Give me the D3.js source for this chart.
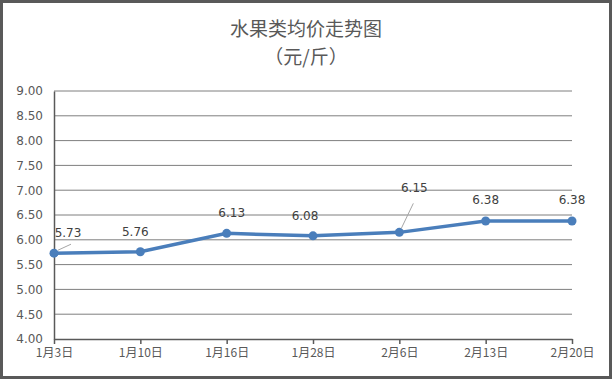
<!DOCTYPE html>
<html>
<head>
<meta charset="utf-8">
<script src="https://cdn.jsdelivr.net/npm/d3@7"></script>
<style>
  body { margin: 0; background: #fff; }
  svg { display: block; }
</style>
</head>
<body>
<svg width="612" height="380"></svg>
<script>
let dates = ["1月3日", "1月10日", "1月16日", "1月28日", "2月6日", "2月13日", "2月20日"];
let prices = [5.73, 5.76, 6.13, 6.08, 6.15, 6.38, 6.38];
let yTicks = [4, 4.5, 5, 5.5, 6, 6.5, 7, 7.5, 8, 8.5, 9];
// label offsets relative to point (dx, dy)
let labelOffsets = [[14, -16], [-5, -16], [5, -16], [-8, -16], [15, -40], [0, -17], [0, -17]];

let svg = d3.select("svg");
let font = "'Noto Sans CJK SC', 'Noto Sans', sans-serif";

// frame
svg.append("rect")
  .attr("x", 1.5).attr("y", 1.5)
  .attr("width", 609).attr("height", 376)
  .attr("fill", "#fff")
  .attr("stroke", "#595959")
  .attr("stroke-width", 3);

svg.append("text")
  .attr("x", 306).attr("y", 36)
  .attr("text-anchor", "middle")
  .attr("font-family", font)
  .attr("font-size", 19)
  .attr("fill", "#595959")
  .text("水果类均价走势图");
svg.append("text")
  .attr("x", 306).attr("y", 64)
  .attr("text-anchor", "middle")
  .attr("font-family", font)
  .attr("font-size", 19)
  .attr("fill", "#595959")
  .text("（元/斤）");

let x = d3.scalePoint().domain(dates).range([54, 572]);
let y = d3.scaleLinear().domain([4, 9]).range([339, 91]);

// grid
svg.append("g")
  .selectAll("line")
  .data(yTicks.slice(1))
  .join("line")
  .attr("x1", 54).attr("x2", 572)
  .attr("y1", (d) => y(d)).attr("y2", (d) => y(d))
  .attr("stroke", "#7f7f7f")
  .attr("stroke-width", 1);

// y axis
let yAxis = svg.append("g")
  .attr("transform", "translate(54,0)")
  .call(d3.axisLeft(y).tickValues(yTicks).tickFormat(d3.format(".2f")).tickSize(0).tickPadding(11));
yAxis.select(".domain").attr("stroke", "#595959").attr("stroke-width", 1.5);
yAxis.selectAll("text")
  .attr("font-family", "'DejaVu Sans', sans-serif")
  .attr("font-size", 12)
  .attr("fill", "#595959");

// x axis
let xAxis = svg.append("g")
  .attr("transform", "translate(0,339)")
  .call(d3.axisBottom(x).tickSize(5).tickSizeOuter(0).tickPadding(4));
xAxis.select(".domain").attr("stroke", "#595959").attr("stroke-width", 1.5);
xAxis.selectAll(".tick line").attr("stroke", "#595959").attr("stroke-width", 1.5);
xAxis.selectAll("text")
  .attr("font-family", font)
  .attr("font-size", 12)
  .attr("fill", "#595959");

let line = d3.line()
  .x((d, i) => x(dates[i]))
  .y((d) => y(d));

svg.append("path")
  .datum(prices)
  .attr("d", line)
  .attr("fill", "none")
  .attr("stroke", "#4a7ebb")
  .attr("stroke-width", 3.5);

svg.append("g")
  .selectAll("circle")
  .data(prices)
  .join("circle")
  .attr("cx", (d, i) => x(dates[i]))
  .attr("cy", (d) => y(d))
  .attr("r", 4.5)
  .attr("fill", "#4a7ebb");

// leader lines for labels that sit away from their point
svg.append("line")
  .attr("x1", x(dates[0]) + 4).attr("y1", y(prices[0]) - 3)
  .attr("x2", x(dates[0]) + 17).attr("y2", y(prices[0]) - 9)
  .attr("stroke", "#a6a6a6");
svg.append("line")
  .attr("x1", x(dates[4]) + 2).attr("y1", y(prices[4]) - 4)
  .attr("x2", x(dates[4]) + 14).attr("y2", y(prices[4]) - 29)
  .attr("stroke", "#a6a6a6");

svg.append("g")
  .selectAll("text")
  .data(prices)
  .join("text")
  .attr("x", (d, i) => x(dates[i]) + labelOffsets[i][0])
  .attr("y", (d, i) => y(d) + labelOffsets[i][1])
  .attr("text-anchor", "middle")
  .attr("font-family", "'DejaVu Sans', sans-serif")
  .attr("font-size", 12)
  .attr("fill", "#404040")
  .text((d) => d.toFixed(2));
</script>
</body>
</html>
